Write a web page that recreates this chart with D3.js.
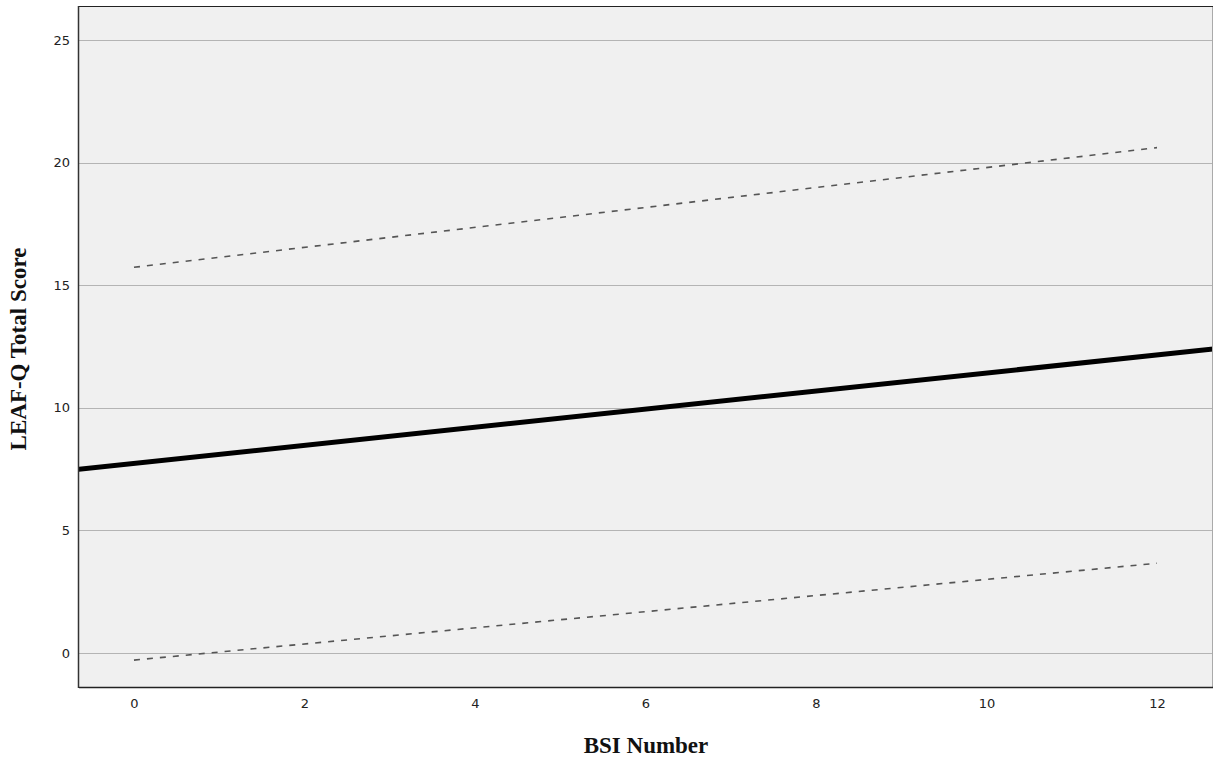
<!DOCTYPE html>
<html>
<head>
<meta charset="utf-8">
<script src="https://cdn.jsdelivr.net/npm/d3@7"></script>
<style>
  body { margin: 0; background: #fff; }
  svg { display: block; }
</style>
</head>
<body>
<div id="chart"></div>
<script>
// values
var xTicks = [0, 2, 4, 6, 8, 10, 12];
var yTicks = [0, 5, 10, 15, 20, 25];
var fitX = [-0.65, 12.66];
var fitY = [7.49, 12.40];
var upperX = [0, 12];
var upperY = [15.73, 20.61];
var lowerX = [0, 12];
var lowerY = [-0.29, 3.66];

var width = 1214;
var height = 759;
var plotLeft = 79, plotRight = 1213, plotTop = 6, plotBottom = 687;

var svg = d3
  .select("#chart")
  .append("svg")
  .attr("width", width)
  .attr("height", height);

var xScale = d3.scaleLinear().domain([-0.645, 12.657]).range([plotLeft, plotRight]);
var yScale = d3.scaleLinear().domain([-1.387, 26.386]).range([plotBottom, plotTop]);

svg.append("clipPath")
  .attr("id", "plot-clip")
  .append("rect")
  .attr("x", plotLeft)
  .attr("y", plotTop)
  .attr("width", plotRight - plotLeft)
  .attr("height", plotBottom - plotTop);

// plot background
svg.append("rect")
  .attr("x", plotLeft)
  .attr("y", plotTop)
  .attr("width", plotRight - plotLeft)
  .attr("height", plotBottom - plotTop)
  .attr("fill", "#f0f0f0");

// horizontal grid lines
svg.append("g")
  .selectAll("line")
  .data(yTicks)
  .enter()
  .append("line")
  .attr("x1", plotLeft)
  .attr("x2", plotRight)
  .attr("y1", (d) => Math.round(yScale(d)) + 0.5)
  .attr("y2", (d) => Math.round(yScale(d)) + 0.5)
  .attr("stroke", "#b4b4b4")
  .attr("stroke-width", 1);

// y axis labels
var yAxis = d3.axisLeft(yScale).tickValues(yTicks).tickSize(0).tickPadding(9);
var gy = svg.append("g")
  .attr("transform", "translate(" + plotLeft + ",0)")
  .call(yAxis);
gy.select(".domain").remove();
gy.selectAll("text")
  .attr("font-family", "DejaVu Sans, sans-serif")
  .attr("font-size", "13px")
  .attr("fill", "#222");

// x axis labels
var xAxis = d3.axisBottom(xScale).tickValues(xTicks).tickSize(0).tickPadding(12);
var gx = svg.append("g")
  .attr("transform", "translate(0," + plotBottom + ")")
  .call(xAxis);
gx.select(".domain").remove();
gx.selectAll("text")
  .attr("font-family", "DejaVu Sans, sans-serif")
  .attr("font-size", "13px")
  .attr("fill", "#222");

var line = d3.line()
  .x((d) => xScale(d[0]))
  .y((d) => yScale(d[1]));

var lines = svg.append("g").attr("clip-path", "url(#plot-clip)");

// prediction interval lines
lines.append("path")
  .datum(d3.zip(upperX, upperY))
  .attr("d", line)
  .attr("fill", "none")
  .attr("stroke", "#555")
  .attr("stroke-width", 1.6)
  .attr("stroke-dasharray", "6,7");

lines.append("path")
  .datum(d3.zip(lowerX, lowerY))
  .attr("d", line)
  .attr("fill", "none")
  .attr("stroke", "#555")
  .attr("stroke-width", 1.6)
  .attr("stroke-dasharray", "6,7");

// fit line
lines.append("path")
  .datum(d3.zip(fitX, fitY))
  .attr("d", line)
  .attr("fill", "none")
  .attr("stroke", "#000")
  .attr("stroke-width", 5);

// frame
svg.append("line")
  .attr("x1", plotRight - 0.5).attr("x2", plotRight - 0.5)
  .attr("y1", plotTop).attr("y2", plotBottom)
  .attr("stroke", "#aaa");
svg.append("line")
  .attr("x1", plotLeft).attr("x2", plotRight)
  .attr("y1", plotTop + 0.5).attr("y2", plotTop + 0.5)
  .attr("stroke", "#222");
svg.append("line")
  .attr("x1", plotLeft).attr("x2", plotRight)
  .attr("y1", plotBottom + 0.5).attr("y2", plotBottom + 0.5)
  .attr("stroke", "#222")
  .attr("stroke-width", 1.5);
svg.append("line")
  .attr("x1", plotLeft - 0.5).attr("x2", plotLeft - 0.5)
  .attr("y1", plotTop).attr("y2", plotBottom + 1)
  .attr("stroke", "#333")
  .attr("stroke-width", 1.5);

// axis titles
svg.append("text")
  .attr("x", 646)
  .attr("y", 753)
  .attr("text-anchor", "middle")
  .attr("font-family", "Liberation Serif, Times New Roman, serif")
  .attr("font-weight", "bold")
  .attr("font-size", "23px")
  .attr("fill", "#111")
  .text("BSI Number");

svg.append("text")
  .attr("transform", "translate(26,349) rotate(-90)")
  .attr("text-anchor", "middle")
  .attr("font-family", "Liberation Serif, Times New Roman, serif")
  .attr("font-weight", "bold")
  .attr("font-size", "23px")
  .attr("fill", "#111")
  .text("LEAF-Q Total Score");
</script>
</body>
</html>
